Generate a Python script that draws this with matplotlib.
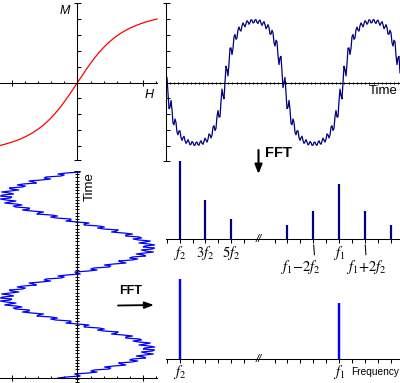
import numpy as np
import matplotlib
matplotlib.use('Agg')
import matplotlib.pyplot as plt

plt.rcParams['font.family'] = ['Liberation Sans', 'DejaVu Sans']
plt.rcParams['mathtext.fontset'] = 'stix'

# ---------------- data ----------------
# magnetisation curve (Langevin shape): M = M_SAT * L(H / H_SAT)
M_SAT = 5.19
H_SAT = 1.374
# excitation H(t) = -A_LOW sin(2 pi f2 t) + A_RIPPLE sin(2 pi f1 t)
A_LOW = 5.45
A_RIPPLE = 0.55
F_RATIO = 28            # f1 / f2

# spectrum of M(t): odd harmonics of f2 and side bands around f1
M_LEFT_HARM = [1, 3, 5]
M_LEFT_AMP = [1.0, 0.5, 0.26]
M_SIDE_OFFS = [-4, -2, 0, 2, 4]
M_SIDE_AMP = [0.18, 0.36, 0.705, 0.36, 0.18]
# spectrum of H(t)
H_LEFT_HARM = [1]
H_LEFT_AMP = [1.0]
H_SIDE_OFFS = [0]
H_SIDE_AMP = [0.71]

F1_POS = 13.36          # drawing position of f1 on the broken axis
LEFT_TICKS = [0, 1, 2, 3, 4, 5, 6]
SIDE_TICKS = [-5, -4, -3, -2, -1, 0, 1, 2, 3, 4]
BREAK_POS = 7.15

M_LABELS = ['$f_2$', '$3f_2$', '$5f_2$']
# ----------------------------------------------------------------

W, H = 400, 383
PT = 0.72  # points per pixel
fig = plt.figure(figsize=(W / 100, H / 100), dpi=100)

NAVY = '#000080'
BLUE = '#0000FF'
RED = '#FF0000'
LW = 0.75


def langevin(x):
    x = np.asarray(x, dtype=float)
    out = np.empty_like(x)
    small = np.abs(x) < 1e-4
    out[small] = x[small] / 3.0
    xs = x[~small]
    out[~small] = 1.0 / np.tanh(xs) - 1.0 / xs
    return out


def magnet(h):
    return M_SAT * langevin(np.asarray(h) / H_SAT)


def excitation(t):
    return -A_LOW * np.sin(2 * np.pi * t) + A_RIPPLE * np.sin(2 * np.pi * F_RATIO * t)


def px_axes(x0, y0, x1, y1):
    ax = fig.add_axes([x0 / W, 1 - y1 / H, (x1 - x0) / W, (y1 - y0) / H])
    ax.patch.set_visible(False)
    for s in ['top', 'right']:
        ax.spines[s].set_visible(False)
    for s in ['left', 'bottom']:
        ax.spines[s].set_linewidth(LW)
    ax.tick_params(which='both', labelleft=False, labelbottom=False,
                   width=LW, color='black')
    return ax


HPX, MPX = 13.1, 15.8
h_lim = ((0 - 77.5) / HPX, (157 - 77.5) / HPX)


def h_ticks(ax):
    ax.set_xticks([-5, 5])
    ax.set_xticks([v for v in range(-4, 7) if v != 0], minor=True)
    ax.tick_params(axis='x', which='major', direction='inout', length=6 * PT)
    ax.tick_params(axis='x', which='minor', direction='in', length=2.5 * PT)


def m_ticks(ax, lo, hi):
    ax.set_yticks([lo, hi])
    ax.set_yticks([v for v in range(-4, 5) if v != 0], minor=True)
    ax.tick_params(axis='y', which='major', direction='inout', length=7 * PT)
    ax.tick_params(axis='y', which='minor', direction='in', length=4 * PT)


# ---------- A: M-H curve ----------
axA = px_axes(0, 3, 157, 160)
mA = ((82.5 - 160) / MPX, (82.5 - 3) / MPX)
axA.set_xlim(*h_lim)
axA.set_ylim(*mA)
axA.spines['left'].set_position(('data', 0))
axA.spines['bottom'].set_position(('data', 0))
h_ticks(axA)
m_ticks(axA, mA[0], mA[1])
hh = np.linspace(h_lim[0], h_lim[1], 500)
axA.plot(hh, magnet(hh), color=RED, lw=0.9, clip_on=False)

# ---------- B: M(t) ----------
TB = 118.0
axB = px_axes(166, 3, 400, 161)
mB = ((82.5 - 161) / MPX, (82.5 - 3) / MPX)
tB_end = 234 / TB
axB.set_xlim(0, tB_end)
axB.set_ylim(*mB)
axB.spines['bottom'].set_position(('data', 0))
axB.set_xticks([])
axB.set_xticks(np.arange(1, 57) * 4.15 / TB, minor=True)
axB.tick_params(axis='x', which='minor', direction='inout', length=2.7 * PT)
m_ticks(axB, mB[0], mB[1])
tb = np.arange(0, 235) / TB          # one sample per pixel column
axB.plot(tb, magnet(excitation(tb)), color=NAVY, lw=0.9)

# ---------- C: H(t) ----------
TC = 102.0
axC = px_axes(0, 171, 157, 383)
tC_end = 212 / TC
tC_axis = (378 - 171) / TC
axC.set_xlim(*h_lim)
axC.set_ylim(tC_end, 0)
axC.spines['left'].set_position(('data', 0))
axC.spines['bottom'].set_position(('data', tC_axis))
h_ticks(axC)
axC.set_yticks([0])
axC.set_yticks(np.arange(1, 67) * 3.2 / TC, minor=True)
axC.tick_params(axis='y', which='major', direction='inout', length=6 * PT)
axC.tick_params(axis='y', which='minor', direction='inout', length=3.4 * PT)
tc = np.arange(0, 208) / TC          # one sample per pixel row
axC.plot(excitation(tc), tc, color=BLUE, lw=0.9)


# ---------- D / E: spectra ----------
def spectrum_axes(y_top, y_base, y_bot, amp_px, left_h, left_a, offs, amps, color, bar_px):
    ax = px_axes(166, y_top, 400, y_bot)
    ax.spines['left'].set_visible(False)
    ax.set_xlim((166 - 166.7) / 12.9, (400 - 166.7) / 12.9)
    ax.set_ylim(-(y_bot - y_base) / amp_px, (y_base - y_top) / amp_px)
    ax.spines['bottom'].set_position(('data', 0))
    ax.set_yticks([])
    ax.set_xticks(list(LEFT_TICKS) + [F1_POS + o for o in SIDE_TICKS])
    ax.tick_params(axis='x', which='major', direction='out', length=4 * PT)
    pos = list(left_h) + [F1_POS + o for o in offs]
    ax.vlines(pos, 0, list(left_a) + list(amps), color=color, lw=bar_px * PT)
    ax.text(BREAK_POS, 0.01, '//', ha='center', va='center', fontsize=8,
            style='italic')
    return ax


axD = spectrum_axes(155, 239.3, 245, 78, M_LEFT_HARM, M_LEFT_AMP,
                    M_SIDE_OFFS, M_SIDE_AMP, NAVY, 2.2)
for p, lbl in zip(M_LEFT_HARM, M_LABELS):
    axD.annotate(lbl, xy=(p, 0), xytext=(0, -14 * PT), textcoords='offset points',
                 ha='center', va='center', fontsize=10.5)
axD.annotate('$f_1$', xy=(F1_POS, 0), xytext=(0, -14 * PT), textcoords='offset points',
             ha='center', va='center', fontsize=10.5)
axD.annotate('$f_1{-}2f_2$', xy=(F1_POS - 2, 0), xytext=(-12.7 * PT, -27.4 * PT),
             textcoords='offset points', ha='center', va='center', fontsize=10.5,
             arrowprops=dict(arrowstyle='-', lw=LW, color='black',
                             shrinkA=0, shrinkB=4, relpos=(0.85, 1.0)))
axD.annotate('$f_1{+}2f_2$', xy=(F1_POS + 2, 0), xytext=(1.3 * PT, -27.4 * PT),
             textcoords='offset points', ha='center', va='center', fontsize=10.5,
             arrowprops=dict(arrowstyle='-', lw=LW, color='black',
                             shrinkA=0, shrinkB=4, relpos=(0.5, 1.0)))

axE = spectrum_axes(275, 359.3, 365, 80, H_LEFT_HARM, H_LEFT_AMP,
                    H_SIDE_OFFS, H_SIDE_AMP, BLUE, 2.4)
axE.annotate('$f_2$', xy=(1, 0), xytext=(0, -12.5 * PT), textcoords='offset points',
             ha='center', va='center', fontsize=10.5)
axE.annotate('$f_1$', xy=(F1_POS, 0), xytext=(0, -12.5 * PT), textcoords='offset points',
             ha='center', va='center', fontsize=10.5)

# ---------- overlay: texts and FFT arrows ----------
ov = fig.add_axes([0, 0, 1, 1])
ov.set_xlim(0, W)
ov.set_ylim(H, 0)
ov.axis('off')
ov.text(65, 11, 'M', style='italic', fontsize=9, ha='center', va='center')
ov.text(149, 95, 'H', style='italic', fontsize=9, ha='center', va='center')
ov.text(383, 91, 'Time', fontsize=9.5, ha='center', va='center')
ov.text(90, 187, 'Time', fontsize=9.5, ha='center', va='center', rotation=90)
ov.text(375, 372, 'Frequency', fontsize=7.3, ha='center', va='center')
ov.text(278, 153, 'FFT', fontsize=10.5, fontweight='bold', ha='center', va='center')
ov.text(130.5, 291, 'FFT', fontsize=9, fontweight='bold', ha='center', va='center')
ov.annotate('', xy=(258.5, 174), xytext=(258.5, 150),
            arrowprops=dict(arrowstyle='-|>,head_length=0.55,head_width=0.22',
                            lw=1.5, color='black', shrinkA=0, shrinkB=0))
ov.annotate('', xy=(154, 305), xytext=(118, 305.5),
            arrowprops=dict(arrowstyle='-|>,head_length=0.55,head_width=0.2',
                            lw=1.3, color='black', shrinkA=0, shrinkB=0))

fig.savefig('out.png', dpi=100)
